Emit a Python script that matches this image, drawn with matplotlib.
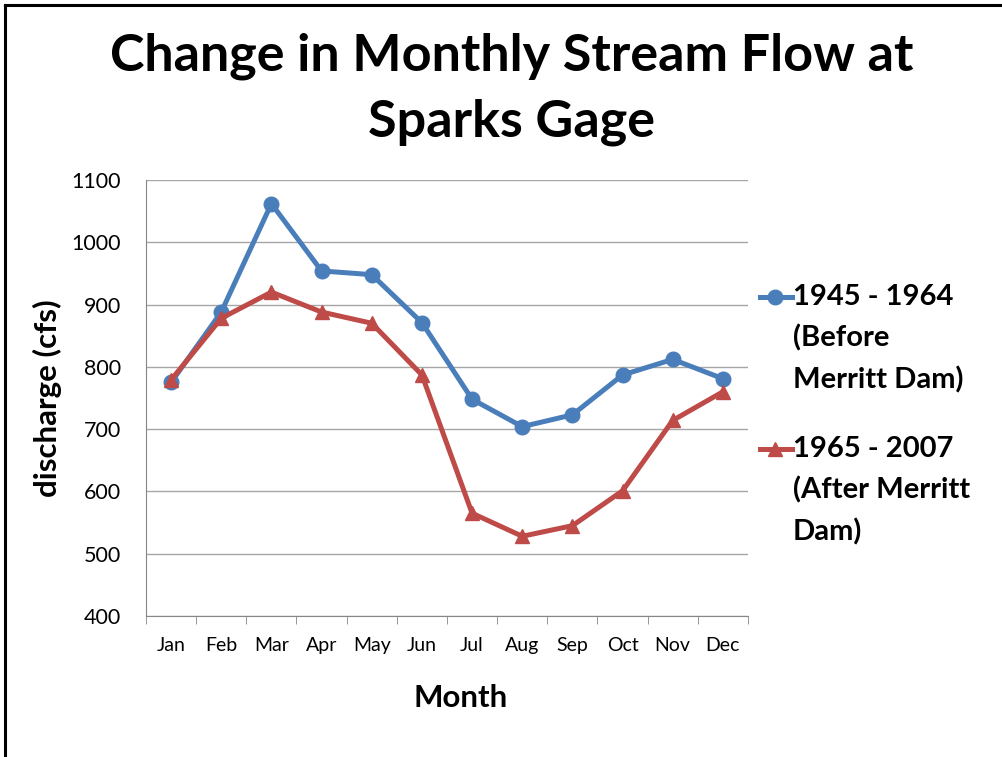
import matplotlib.pyplot as plt
from matplotlib.lines import Line2D

months = ["Jan", "Feb", "Mar", "Apr", "May", "Jun", "Jul", "Aug", "Sep", "Oct", "Nov", "Dec"]
before_dam = [775, 888, 1062, 954, 948, 871, 748, 704, 723, 787, 812, 781]
after_dam = [779, 878, 920, 888, 870, 787, 565, 528, 545, 601, 714, 760]
yticks = [400, 500, 600, 700, 800, 900, 1000, 1100]

blue = "#4A7EBB"
red = "#BE4B48"
plt.rcParams['font.family'] = ['Lato', 'DejaVu Sans']

fig = plt.figure(figsize=(10.03, 7.57), dpi=100)
W, H = 1003, 757
# black frame (top and left edges visible)
fig.add_artist(Line2D([5 / W, 1.0], [1 - 5 / H, 1 - 5 / H], color="black", lw=2.2,
                      transform=fig.transFigure))
fig.add_artist(Line2D([5 / W, 5 / W], [0, 1 - 5 / H], color="black", lw=2.2,
                      transform=fig.transFigure))

ax = fig.add_axes([146 / W, 1 - 616 / H, (748 - 146) / W, (616 - 180) / H])
x = list(range(len(months)))
ax.plot(x, before_dam, color=blue, lw=3.6, marker="o", ms=10.5)
ax.plot(x, after_dam, color=red, lw=3.6, marker="^", ms=10.5)

ax.set_xlim(-0.5, len(months) - 0.5)
ax.set_ylim(400, 1100)
ax.set_yticks(yticks)
ax.set_xticks(x)
ax.set_xticklabels(months, fontsize=14)
ax.tick_params(axis="x", length=0, pad=15)
ax.set_xticks([i - 0.5 for i in range(len(months) + 1)], minor=True)
ax.tick_params(axis="x", which="minor", length=6, color="#868686", direction="out")
ax.tick_params(axis="y", length=0, labelsize=15.5, pad=18)
ax.grid(axis="y", color="#A6A6A6", lw=1)
ax.set_axisbelow(True)
for s in ["top", "right"]:
    ax.spines[s].set_visible(False)
for s in ["left", "bottom"]:
    ax.spines[s].set_color("#868686")
ax.set_ylabel("discharge (cfs)", fontsize=22.5, fontweight="bold", labelpad=7)
fig.text(461 / W, 1 - 698 / H, "Month", ha="center", va="center",
         fontsize=22.5, fontweight="bold")

fig.text(512 / W, 1 - 89 / H, "Change in Monthly Stream Flow at\nSparks Gage",
         ha="center", va="center", fontsize=37.5, fontweight="bold", linespacing=1.5)

# legend drawn beside the plot
for yy, col, mk, txt in [(297, blue, "o", "1945 - 1964\n(Before\nMerritt Dam)"),
                         (449, red, "^", "1965 - 2007\n(After Merritt\nDam)")]:
    fy = 1 - yy / H
    fig.add_artist(Line2D([760 / W, 792 / W], [fy, fy], color=col, lw=3.6,
                          transform=fig.transFigure))
    fig.add_artist(Line2D([775 / W], [fy], color=col, marker=mk, ms=10.5,
                          transform=fig.transFigure))
    fig.text(793 / W, fy + 13 / H, txt, ha="left", va="top", fontsize=21,
             fontweight="bold", linespacing=1.65)

fig.savefig("out.png", dpi=100)
